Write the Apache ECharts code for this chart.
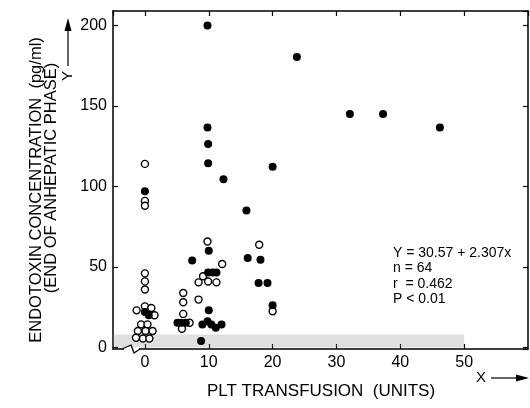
<!DOCTYPE html>
<html>
<head>
<meta charset="utf-8">
<script src="https://cdn.jsdelivr.net/npm/echarts@6/dist/echarts.min.js"></script>
<style>
html, body { margin: 0; padding: 0; background: #fff; }
#chart { width: 530px; height: 408px; }
</style>
</head>
<body>
<div id="chart"></div>
<script>
// filled circles
var solidPoints = [
	[0, 97], [0, 22], [0.6, 20],
	[10, 60], [7.4, 54], [9.9, 46.5], [10.6, 46.5], [11.2, 46.5],
	[5.1, 15.3], [5.7, 15.3], [6.4, 15.3], [10, 23], [9.8, 16.3],
	[9, 14.2], [10.4, 14.2], [11.1, 12.2], [12, 14.2], [8.8, 3.9],
	[9.8, 200], [9.8, 136.6], [9.9, 126.3], [9.9, 114.4], [12.3, 104.5],
	[15.9, 85], [20, 112.3], [23.8, 180.4],
	[16.1, 55.5], [18.1, 54.5], [17.8, 40], [19.2, 40], [20, 26.2],
	[32.1, 145], [37.3, 145], [46.2, 136.6]
];
// open circles
var openPoints = [
	[0, 114], [0, 91], [0, 88], [0, 46], [0, 41], [0, 36],
	[-1.3, 23], [0, 25.5], [1, 24.5], [1.5, 20],
	[-0.6, 14.3], [0.4, 14.3], [-1.1, 10.2], [0.1, 10.2], [1.2, 10.2],
	[-1.4, 6], [-0.3, 5.5], [0.7, 5.5],
	[12.1, 51.8], [9.1, 44.2], [8.4, 40.4], [9.9, 40.9], [11.2, 40.4],
	[6, 33.8], [6, 28], [8.4, 29.7], [6, 20.8], [7, 15.3], [5.8, 11.6],
	[9.8, 65.8], [17.9, 63.8], [20, 22.5]
];
var xRange = [-5, 60];
var yRange = [-1, 209];
var shadeTop = 8;
var shadeEnd = 50;
var statLines = ['Y = 30.57 + 2.307x', 'n = 64', 'r  = 0.462', 'P < 0.01'];

var chart = echarts.init(document.getElementById('chart'));
var fontFam = 'Liberation Sans, Arial, sans-serif';

function frameX(pos, showLabel){
	return {
		type: 'value', position: pos, min: xRange[0], max: xRange[1],
		minInterval: 10, maxInterval: 10,
		splitLine: { show: false },
		axisLine: { onZero: false, lineStyle: { color: '#000', width: 1.5 } },
		axisTick: { inside: true, length: 5, lineStyle: { color: '#000', width: 1.2 } },
		axisLabel: { show: showLabel, showMinLabel: false, showMaxLabel: false,
			margin: 6, color: '#000', fontSize: 16, fontFamily: fontFam }
	};
}
function frameY(pos, showLabel){
	return {
		type: 'value', position: pos, min: yRange[0], max: yRange[1],
		minInterval: 50, maxInterval: 50,
		splitLine: { show: false },
		axisLine: { onZero: false, lineStyle: { color: '#000', width: 1.5 } },
		axisTick: { inside: true, length: 5, lineStyle: { color: '#000', width: 1.2 } },
		axisLabel: { show: showLabel, showMinLabel: false, showMaxLabel: false,
			margin: 6, color: '#000', fontSize: 16, fontFamily: fontFam }
	};
}

var option = {
	animation: false,
	backgroundColor: '#fff',
	grid: { left: 113, right: 2, top: 11, bottom: 59 },
	xAxis: [frameX('bottom', true), frameX('top', false)],
	yAxis: [frameY('left', true), frameY('right', false)],
	series: [
		{
			name: 'open',
			type: 'scatter',
			symbolSize: 7,
			itemStyle: { color: '#fff', borderColor: '#000', borderWidth: 1.4, opacity: 1 },
			data: openPoints,
			markArea: {
				silent: true,
				itemStyle: { color: 'rgba(140,140,140,0.28)' },
				data: [[{ xAxis: xRange[0], yAxis: 0 }, { xAxis: shadeEnd, yAxis: shadeTop }]]
			},
			z: 3
		},
		{
			name: 'solid',
			type: 'scatter',
			symbolSize: 8,
			itemStyle: { color: '#000', opacity: 1 },
			data: solidPoints,
			z: 4
		}
	],
	graphic: [
		// y axis title (two lines, rotated)
		{ type: 'text', x: 36, y: 190, rotation: Math.PI / 2,
			style: { text: 'ENDOTOXIN CONCENTRATION  (pg/ml)', font: '16.5px ' + fontFam,
				fill: '#000', align: 'center', verticalAlign: 'middle' } },
		{ type: 'text', x: 51.5, y: 178, rotation: Math.PI / 2,
			style: { text: '(END OF ANHEPATIC PHASE)', font: '16.5px ' + fontFam,
				fill: '#000', align: 'center', verticalAlign: 'middle' } },
		// Y arrow
		{ type: 'line', shape: { x1: 68, y1: 66, x2: 68, y2: 28 }, style: { stroke: '#000', lineWidth: 1.2 } },
		{ type: 'polygon', shape: { points: [[68, 18], [64.5, 31], [71.5, 31]] }, style: { fill: '#000' } },
		{ type: 'text', x: 68, y: 76, rotation: Math.PI / 2,
			style: { text: 'Y', font: '15px ' + fontFam, fill: '#000', align: 'center', verticalAlign: 'middle' } },
		// x axis title and arrow
		{ type: 'text', x: 321, y: 391,
			style: { text: 'PLT TRANSFUSION  (UNITS)', font: '17px ' + fontFam,
				fill: '#000', align: 'center', verticalAlign: 'middle' } },
		{ type: 'text', x: 481, y: 378,
			style: { text: 'X', font: '15px ' + fontFam, fill: '#000', align: 'center', verticalAlign: 'middle' } },
		{ type: 'line', shape: { x1: 491, y1: 378, x2: 517, y2: 378 }, style: { stroke: '#000', lineWidth: 1.2 } },
		{ type: 'polygon', shape: { points: [[529, 378], [516, 374.5], [516, 381.5]] }, style: { fill: '#000' } },
		// axis break mark
		{ type: 'rect', shape: { x: 124, y: 347, width: 15, height: 4 }, style: { fill: '#fff' }, z: 100 },
		{ type: 'polyline', shape: { points: [[122, 349], [131, 345], [134, 353], [140, 349]] },
			style: { stroke: '#000', lineWidth: 1.3, fill: null }, z: 101 },
		// regression stats
		{ type: 'text', left: 393, top: 245,
			style: { text: statLines.join('\n'), font: '14px ' + fontFam, lineHeight: 15.5, fill: '#000' } }
	]
};
chart.setOption(option);
</script>
</body>
</html>
